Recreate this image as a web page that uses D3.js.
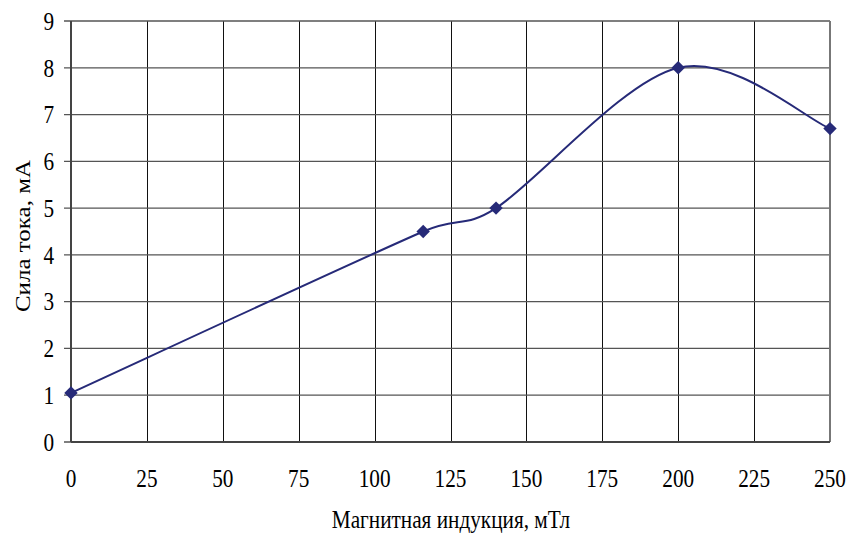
<!DOCTYPE html>
<html>
  <head>
    <meta charset="utf-8">
    <script src="https://d3js.org/d3.v7.min.js"></script>
    <style>
      body { margin: 0; background: #fff; }
      text { font-family: "Liberation Serif", "Times New Roman", serif; fill: #000; font-size: 25px; }
    </style>
  </head>
<body>
  <script type="text/javascript">
    "use strict";
    // data
    var induction = [0, 116, 140, 200, 250];     // мТл
    var current = [1.05, 4.5, 5, 8, 6.7];        // мА
    var xTicks = [0, 25, 50, 75, 100, 125, 150, 175, 200, 225, 250];
    var yTicks = [0, 1, 2, 3, 4, 5, 6, 7, 8, 9];

    // spreadsheet-style smoothing: bezier handles at 1/6 of the neighbour chord,
    // capped at half the segment so short segments don't loop
    function smoothCurve(context) {
      var pts = [];
      return {
        areaStart: function () {},
        areaEnd: function () {},
        lineStart: function () { pts = []; },
        point: function (px, py) { pts.push([+px, +py]); },
        lineEnd: function () {
          var n = pts.length;
          if (!n) return;
          context.moveTo(pts[0][0], pts[0][1]);
          function dist(a, b) { return Math.hypot(b[0] - a[0], b[1] - a[1]); }
          for (var i = 0; i < n - 1; i++) {
            var p0 = pts[Math.max(i - 1, 0)], p1 = pts[i],
                p2 = pts[i + 1], p3 = pts[Math.min(i + 2, n - 1)];
            var seg = dist(p1, p2);
            var t1 = [p2[0] - p0[0], p2[1] - p0[1]], l1 = Math.hypot(t1[0], t1[1]);
            var t2 = [p3[0] - p1[0], p3[1] - p1[1]], l2 = Math.hypot(t2[0], t2[1]);
            var f1 = l1 ? Math.min(1 / 6, 0.5 * seg / l1) : 0;
            var f2 = l2 ? Math.min(1 / 6, 0.5 * seg / l2) : 0;
            context.bezierCurveTo(
              p1[0] + t1[0] * f1, p1[1] + t1[1] * f1,
              p2[0] - t2[0] * f2, p2[1] - t2[1] * f2,
              p2[0], p2[1]);
          }
        }
      };
    }

    function draw() {
      var width = 850, height = 536;
      var pLeft = 71, pRight = 830, pTop = 21, pBottom = 442;
      // text in the original is a bit narrow, squeeze it horizontally
      var sx = 0.85;

      var svg = d3.select("body").append("svg")
          .attr("width", width)
          .attr("height", height);

      var x = d3.scaleLinear().domain([0, 250]).range([pLeft, pRight]);
      var y = d3.scaleLinear().domain([0, 9]).range([pBottom, pTop]);

      // vertical gridlines
      svg.selectAll("line.vgrid")
          .data(xTicks.slice(1, -1))
          .enter().append("line")
            .attr("class", "vgrid")
            .attr("x1", function (d) { return Math.round(x(d)) + 0.5; })
            .attr("x2", function (d) { return Math.round(x(d)) + 0.5; })
            .attr("y1", pTop).attr("y2", pBottom)
            .attr("stroke", "#111").attr("stroke-width", 1);

      // horizontal gridlines, with the small ticks left of the axis
      svg.selectAll("line.hgrid")
          .data(yTicks)
          .enter().append("line")
            .attr("class", "hgrid")
            .attr("x1", pLeft - 7).attr("x2", pRight)
            .attr("y1", function (d) { return y(d); })
            .attr("y2", function (d) { return y(d); })
            .attr("stroke", "#555").attr("stroke-width", 1.3);

      // right border of the plot
      svg.append("line")
          .attr("x1", pRight).attr("x2", pRight)
          .attr("y1", pTop).attr("y2", pBottom)
          .attr("stroke", "#777").attr("stroke-width", 2);

      // y axis line
      svg.append("line")
          .attr("x1", pLeft).attr("x2", pLeft)
          .attr("y1", pTop).attr("y2", pBottom)
          .attr("stroke", "#444").attr("stroke-width", 2);

      // x axis line
      svg.append("line")
          .attr("x1", pLeft).attr("x2", pRight)
          .attr("y1", pBottom).attr("y2", pBottom)
          .attr("stroke", "#444").attr("stroke-width", 2);

      // tick labels
      svg.selectAll("text.ylab")
          .data(yTicks)
          .enter().append("text")
            .attr("class", "ylab")
            .attr("transform", function (d) {
              return "translate(54," + y(d) + ") scale(" + sx + ",1)";
            })
            .attr("dy", "0.35em")
            .attr("text-anchor", "end")
            .text(function (d) { return d; });

      svg.selectAll("text.xlab")
          .data(xTicks)
          .enter().append("text")
            .attr("class", "xlab")
            .attr("transform", function (d) {
              return "translate(" + x(d) + ",487) scale(" + sx + ",1)";
            })
            .attr("text-anchor", "middle")
            .text(function (d) { return d; });

      // axis titles
      svg.append("text")
          .attr("transform", "translate(451,528) scale(" + sx + ",1)")
          .attr("text-anchor", "middle")
          .text("Магнитная индукция, мТл");

      svg.append("text")
          .attr("transform", "translate(30,236) scale(" + sx + ",1) rotate(-90)")
          .attr("text-anchor", "middle")
          .text("Сила тока, мА");

      // smoothed line
      var pts = induction.map(function (d, i) { return [d, current[i]]; });
      var line = d3.line()
          .x(function (d) { return x(d[0]); })
          .y(function (d) { return y(d[1]); })
          .curve(smoothCurve);

      svg.append("path")
          .datum(pts)
          .attr("d", line)
          .attr("fill", "none")
          .attr("stroke", "#262a78")
          .attr("stroke-width", 2);

      // diamond markers
      svg.selectAll("path.marker")
          .data(pts)
          .enter().append("path")
            .attr("class", "marker")
            .attr("d", d3.symbol().type(d3.symbolSquare).size(90))
            .attr("transform", function (d) {
              return "translate(" + x(d[0]) + "," + y(d[1]) + ") rotate(45)";
            })
            .attr("fill", "#262a78");
    }

    draw();
  </script>
</body>
</html>
